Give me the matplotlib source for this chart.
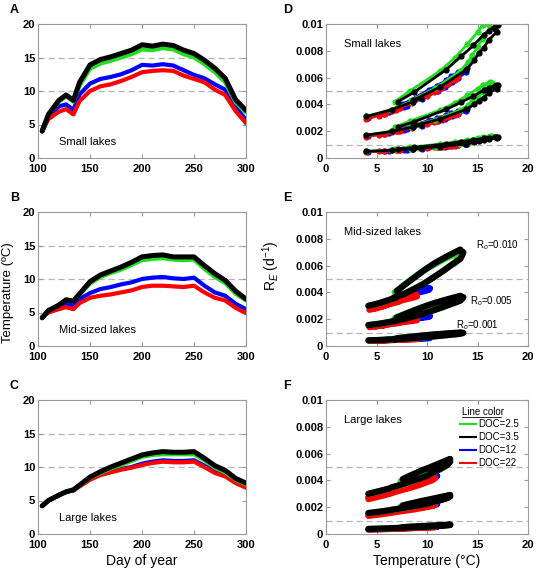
import numpy as np
import matplotlib.pyplot as plt
from matplotlib.lines import Line2D

plt.rcParams['font.family'] = ['Liberation Sans', 'DejaVu Sans']
plt.rcParams['mathtext.fontset'] = 'custom'
plt.rcParams['mathtext.rm'] = 'Liberation Sans'
plt.rcParams['mathtext.it'] = 'Liberation Sans:italic'

# day of year for every sample
days = [104, 110, 120, 127, 134, 140, 150, 160, 170, 180, 190, 200,
        210, 220, 230, 240, 250, 260, 270, 280, 290, 300]

doc_labels = ['DOC=2.5', 'DOC=3.5', 'DOC=12', 'DOC=22']
doc_colors = ['#22dd22', 'black', '#0000ff', '#ff0000']

# water temperature (deg C), small lakes
temp_small_doc25 = [4.0, 6.4, 8.4, 9.2, 8.4, 10.8, 13.3, 14.1, 14.5, 15.0, 15.5, 16.2,
                    16.1, 16.4, 16.2, 15.5, 15.0, 14.0, 12.8, 11.3, 8.3, 6.8]
temp_small_doc35 = [4.0, 6.5, 8.6, 9.4, 8.6, 11.3, 13.9, 14.7, 15.1, 15.6, 16.1, 16.9,
                    16.7, 17.0, 16.8, 16.1, 15.6, 14.6, 13.4, 11.9, 8.7, 7.1]
temp_small_doc12 = [4.2, 6.2, 7.7, 8.0, 7.2, 9.5, 11.1, 11.8, 12.1, 12.5, 13.1, 13.9,
                    13.8, 14.0, 13.8, 13.1, 12.4, 11.9, 11.0, 10.2, 7.6, 5.7]
temp_small_doc22 = [4.0, 5.8, 6.9, 7.3, 6.5, 8.5, 10.0, 10.7, 11.0, 11.5, 12.1, 12.8,
                    13.0, 13.1, 13.0, 12.3, 11.8, 11.3, 10.2, 9.4, 7.0, 5.2]

# mid-sized lakes
temp_mid_doc25 = [4.2, 5.3, 6.1, 6.9, 6.7, 7.7, 9.3, 10.3, 10.9, 11.4, 12.1, 12.8,
                  13.0, 13.1, 12.9, 12.8, 12.9, 11.5, 10.3, 9.4, 7.8, 6.8]
temp_mid_doc35 = [4.2, 5.3, 6.1, 6.9, 6.7, 7.8, 9.6, 10.6, 11.2, 11.8, 12.5, 13.3,
                  13.5, 13.6, 13.3, 13.3, 13.3, 12.0, 10.8, 9.8, 8.2, 7.0]
temp_mid_doc12 = [4.3, 5.2, 5.8, 6.3, 6.0, 7.0, 7.9, 8.5, 8.8, 9.2, 9.5, 10.0,
                  10.2, 10.3, 10.1, 10.0, 10.2, 9.0, 8.0, 7.5, 6.3, 5.5]
temp_mid_doc22 = [4.3, 5.0, 5.5, 5.8, 5.5, 6.4, 7.2, 7.5, 7.7, 8.0, 8.3, 8.8,
                  9.0, 9.0, 8.9, 8.8, 9.0, 8.0, 7.2, 6.8, 5.7, 4.9]

# large lakes
temp_large_doc25 = [4.2, 5.0, 5.8, 6.3, 6.6, 7.2, 8.4, 9.1, 9.8, 10.3, 10.9, 11.5,
                    11.8, 11.9, 11.9, 11.9, 11.9, 11.0, 9.9, 9.2, 8.1, 7.4]
temp_large_doc35 = [4.2, 5.0, 5.8, 6.3, 6.6, 7.3, 8.5, 9.3, 10.0, 10.6, 11.2, 11.8,
                    12.1, 12.3, 12.2, 12.2, 12.3, 11.3, 10.2, 9.5, 8.3, 7.6]
temp_large_doc12 = [4.2, 5.0, 5.8, 6.3, 6.5, 7.2, 8.2, 8.9, 9.3, 9.7, 10.0, 10.5,
                    10.8, 11.0, 10.9, 10.9, 11.0, 10.2, 9.3, 8.7, 7.8, 7.0]
temp_large_doc22 = [4.2, 5.0, 5.8, 6.3, 6.5, 7.1, 8.1, 8.8, 9.2, 9.6, 9.9, 10.3,
                    10.6, 10.8, 10.7, 10.7, 10.8, 10.0, 9.1, 8.6, 7.6, 6.9]

# R_E for R0 = 0.010 (units of 1e-3 per day), same days as above
re_small_doc25 = [3.1, 3.6, 4.2, 4.5, 4.3, 5.2, 6.5, 7.2, 7.7, 8.3, 8.9, 9.6,
                  9.9, 10.2, 10.3, 9.9, 9.4, 8.5, 7.5, 6.5, 5.0, 4.2]
re_small_doc35 = [3.1, 3.6, 4.2, 4.5, 4.3, 5.3, 6.6, 7.3, 7.8, 8.2, 8.8, 9.4,
                  9.6, 9.9, 9.9, 9.5, 9.2, 8.4, 7.6, 6.6, 4.9, 4.2]
re_small_doc12 = [3.0, 3.4, 3.8, 3.9, 3.7, 4.4, 5.0, 5.3, 5.5, 5.7, 6.0, 6.4,
                  6.5, 6.7, 6.7, 6.4, 6.1, 5.8, 5.4, 5.1, 4.0, 3.3]
re_small_doc22 = [2.9, 3.3, 3.6, 3.7, 3.5, 4.1, 4.6, 4.9, 5.0, 5.2, 5.5, 5.8,
                  6.0, 6.1, 6.1, 5.8, 5.6, 5.4, 4.9, 4.6, 3.7, 3.1]

re_mid_doc25 = [3.0, 3.2, 3.4, 3.6, 3.6, 3.9, 4.5, 4.95, 5.25, 5.5, 5.9, 6.2,
                6.4, 6.6, 6.7, 6.8, 6.9, 6.4, 5.9, 5.5, 4.6, 4.0]
re_mid_doc35 = [3.0, 3.2, 3.4, 3.6, 3.6, 3.9, 4.6, 5.1, 5.4, 5.7, 6.1, 6.5,
                6.8, 7.0, 7.1, 7.2, 7.2, 6.7, 6.2, 5.7, 4.8, 4.1]
re_mid_doc12 = [2.9, 3.1, 3.2, 3.3, 3.25, 3.5, 3.7, 3.85, 3.9, 4.0, 4.05, 4.15,
                4.2, 4.3, 4.3, 4.3, 4.3, 4.0, 3.7, 3.6, 3.3, 3.1]
re_mid_doc22 = [2.7, 2.85, 2.95, 3.0, 2.95, 3.15, 3.3, 3.4, 3.45, 3.5, 3.55, 3.65,
                3.7, 3.75, 3.75, 3.75, 3.8, 3.6, 3.4, 3.3, 3.0, 2.8]

re_large_doc25 = [3.0, 3.15, 3.3, 3.4, 3.5, 3.6, 3.9, 4.1, 4.3, 4.5, 4.7, 4.95,
                  5.1, 5.2, 5.25, 5.3, 5.35, 5.05, 4.75, 4.55, 4.2, 3.95]
re_large_doc35 = [3.0, 3.15, 3.3, 3.4, 3.5, 3.65, 3.95, 4.15, 4.35, 4.6, 4.8, 5.05,
                  5.2, 5.4, 5.5, 5.55, 5.6, 5.3, 4.95, 4.75, 4.35, 4.1]
re_large_doc12 = [2.75, 2.9, 3.05, 3.15, 3.2, 3.35, 3.55, 3.7, 3.8, 3.9, 4.0, 4.1,
                  4.2, 4.3, 4.3, 4.3, 4.35, 4.15, 3.95, 3.8, 3.6, 3.4]
re_large_doc22 = [2.6, 2.75, 2.9, 3.0, 3.05, 3.2, 3.4, 3.55, 3.65, 3.75, 3.85, 3.95,
                  4.05, 4.15, 4.15, 4.15, 4.2, 4.0, 3.8, 3.65, 3.45, 3.25]

# R_E of the R0=0.005 and R0=0.001 runs relative to the R0=0.010 run
r0_values = [0.010, 0.005, 0.001]
r0_labels = ['R$_o$=0.010', 'R$_o$=0.005', 'R$_o$=0.001']
re_ratio_small = [1.0, 0.55, 0.16]
re_ratio_mid = [1.0, 0.52, 0.14]
re_ratio_large = [1.0, 0.52, 0.125]

lakes = ['Small lakes', 'Mid-sized lakes', 'Large lakes']
temps = [[temp_small_doc25, temp_small_doc35, temp_small_doc12, temp_small_doc22],
         [temp_mid_doc25, temp_mid_doc35, temp_mid_doc12, temp_mid_doc22],
         [temp_large_doc25, temp_large_doc35, temp_large_doc12, temp_large_doc22]]
rates = [[re_small_doc25, re_small_doc35, re_small_doc12, re_small_doc22],
         [re_mid_doc25, re_mid_doc35, re_mid_doc12, re_mid_doc22],
         [re_large_doc25, re_large_doc35, re_large_doc12, re_large_doc22]]
ratios = [re_ratio_small, re_ratio_mid, re_ratio_large]

W, H = 537, 572
fig = plt.figure(figsize=(W / 100, H / 100), dpi=100)


def add_ax(x0, y0, x1, y1):
    return fig.add_axes([x0 / W, 1 - y1 / H, (x1 - x0) / W, (y1 - y0) / H])


def style(ax):
    for s in ax.spines.values():
        s.set_color('#9a9a9a')
        s.set_linewidth(0.8)
    ax.tick_params(direction='in', length=3, color='#9a9a9a', top=True, right=True,
                   labelsize=8, pad=2)
    ax.tick_params(axis='x', pad=4)


rows = [(24, 158), (212, 346), (400, 534)]
draw_order = [2, 3, 0, 1]  # blue, red, green, black
letters_left = ['A', 'B', 'C']
letters_right = ['D', 'E', 'F']

for i, (y0, y1) in enumerate(rows):
    # temperature through the season
    ax = add_ax(38, y0, 246, y1)
    style(ax)
    for k in draw_order:
        ax.plot(days, temps[i][k], color=doc_colors[k],
                lw=3.6 if k == 1 else 3.0, solid_capstyle='round')
    for yv in (10, 15):
        ax.axhline(yv, color='#b5b5b5', ls=(0, (5, 3)), lw=0.9, zorder=0)
    ax.set_xlim(100, 300)
    ax.set_ylim(0, 20)
    ax.set_xticks([100, 150, 200, 250, 300])
    ax.set_xticklabels(['100', '150', '200', '250', '300'], fontweight='bold')
    ax.set_yticks([0, 5, 10, 15, 20])
    ax.set_yticklabels(['0', '5', '10', '15', '20'], fontweight='bold')
    ax.text(120, 2.4, lakes[i], fontsize=8, va='center', ha='left')
    fig.text(10 / W, 1 - (y0 - 20) / H, letters_left[i], fontsize=9,
             fontweight='bold', ha='left', va='top')
    if i == 1:
        ax.set_ylabel('Temperature (ºC)', fontsize=9.5)
        ax.yaxis.set_label_coords(-0.115, 0.40)
    if i == 2:
        ax.set_xlabel('Day of year', fontsize=10, labelpad=3)

    # metabolic rate vs temperature
    ax = add_ax(326, y0, 528, y1)
    style(ax)
    for j, r0 in enumerate(r0_values):
        for k in draw_order:
            re = np.array(rates[i][k]) * 1e-3 * ratios[i][j]
            if i == 0:
                ax.plot(temps[i][k], re, color=doc_colors[k], lw=2.0, marker='o',
                        ms=4.5, mec='none')
            else:
                ax.plot(temps[i][k], re, color=doc_colors[k], lw=4.5,
                        solid_capstyle='round', solid_joinstyle='round')
    for yv in (0.001, 0.005):
        ax.axhline(yv, color='#b5b5b5', ls=(0, (5, 3)), lw=0.9, zorder=0)
    ax.set_xlim(0, 20)
    ax.set_ylim(0, 0.01)
    ax.set_xticks([0, 5, 10, 15, 20])
    ax.set_xticklabels(['0', '5', '10', '15', '20'], fontweight='bold')
    ax.set_yticks([0, 0.002, 0.004, 0.006, 0.008, 0.01])
    ax.set_yticklabels(['0', '0.002', '0.004', '0.006', '0.008', '0.01'],
                       fontweight='bold')
    ax.text(1.8, 0.0085, lakes[i], fontsize=8, va='center', ha='left')
    fig.text(283 / W, 1 - (y0 - 20) / H, letters_right[i], fontsize=9,
             fontweight='bold', ha='left', va='top')
    if i == 1:
        ax.set_ylabel('R$_E$ (d$^{-1}$)', fontsize=10)
        ax.yaxis.set_label_coords(-0.22, 0.60)
        label_pos = [(14.9, 0.00754), (14.3, 0.00336), (12.9, 0.00157)]
        for lab, (tx, ty) in zip(r0_labels, label_pos):
            ax.text(tx, ty, lab, fontsize=7, va='center', ha='left')
    if i == 2:
        ax.set_xlabel('Temperature (°C)', fontsize=10, labelpad=3)
        handles = [Line2D([], [], color=c, lw=1.5) for c in doc_colors]
        ax.legend(handles, doc_labels, loc='upper left', bbox_to_anchor=(0.665, 0.855),
                  frameon=False, fontsize=7, handlelength=1.6, handletextpad=0.2,
                  labelspacing=0.3, borderaxespad=0, borderpad=0)
        ax.text(0.675, 0.91, 'Line color', transform=ax.transAxes, fontsize=7,
                ha='left', va='center')
        ax.plot([0.675, 0.865], [0.875, 0.875], transform=ax.transAxes,
                color='black', lw=0.6, clip_on=False)

fig.savefig('out.png', dpi=100)
